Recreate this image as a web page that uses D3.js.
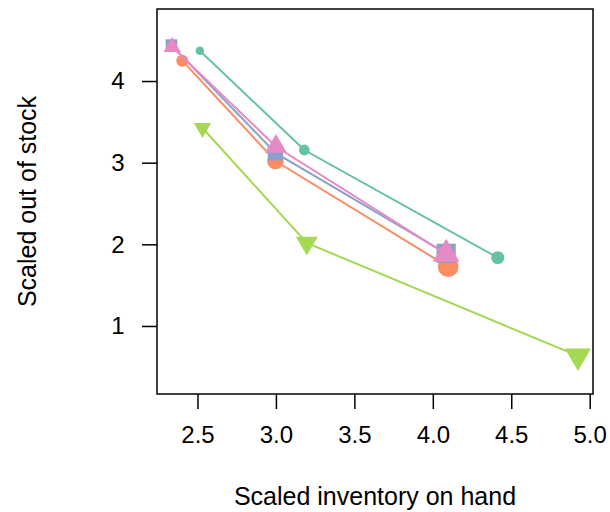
<!DOCTYPE html>
<html>
<head>
<meta charset="utf-8">
<script src="https://cdn.jsdelivr.net/npm/d3@7"></script>
<style>
  html, body { margin: 0; padding: 0; background: #fff; }
  text { font-family: "Liberation Sans", Arial, Helvetica, sans-serif; fill: #000; }
</style>
</head>
<body>
<svg id="chart" width="610" height="512"></svg>
<script>
// ---- data ----
const seriesNames = ["s1", "s2", "s3", "s4", "s5"];
const s1X = [2.515, 3.181, 4.414];
const s1Y = [4.371, 3.155, 1.836];
const s1Size = [0.95, 1.2, 1.45];
const s2X = [2.403, 2.997, 4.098];
const s2Y = [4.249, 3.02, 1.726];
const s2Size = [1.33, 1.85, 2.3];
const s3X = [2.334, 2.997, 4.085];
const s3Y = [4.44, 3.12, 1.89];
const s3Size = [1.45, 1.9, 2.4];
const s4X = [2.339, 3.0, 4.085];
const s4Y = [4.416, 3.198, 1.88];
const s4Size = [1.43, 1.8, 2.2];
const s5X = [2.532, 3.197, 4.925];
const s5Y = [3.425, 2.016, 0.633];
const s5Size = [1.43, 1.8, 2.14];
const xTicks = [2.5, 3.0, 3.5, 4.0, 4.5, 5.0];
const xTickLabels = ["2.5", "3.0", "3.5", "4.0", "4.5", "5.0"];
const yTicks = [1, 2, 3, 4];
const yTickLabels = ["1", "2", "3", "4"];
const xTitle = "Scaled inventory on hand";
const yTitle = "Scaled out of stock";

// ---- styling ----
const colors = ["#66C2A5", "#FC8D62", "#8DA0CB", "#E78AC3", "#A6D854"];
const shapes = ["circle", "circle", "square", "triUp", "triDown"];

const series = [
  {x: s1X, y: s1Y, s: s1Size},
  {x: s2X, y: s2Y, s: s2Size},
  {x: s3X, y: s3Y, s: s3Size},
  {x: s4X, y: s4Y, s: s4Size},
  {x: s5X, y: s5Y, s: s5Size}
];

const L = 157, R = 593, T = 9, B = 394;
const x = d3.scaleLinear().domain([2.242, 5.021]).range([L, R]);
const y = d3.scaleLinear().domain([0.167, 4.882]).range([B, T]);
const cex = d3.scaleLinear().domain([0, 1]).range([0, 1]);

const svg = d3.select("#chart");

// box
svg.append("rect").attr("x", L).attr("y", T).attr("width", R - L).attr("height", B - T)
  .attr("fill", "none").attr("stroke", "#000").attr("stroke-width", 1.5);

// axes
const xAxis = d3.axisBottom(x).tickValues(xTicks)
  .tickFormat((d, i) => xTickLabels[i]).tickSize(15).tickPadding(17);
const gx = svg.append("g").attr("transform", `translate(0,${B})`).call(xAxis);
gx.select(".domain").remove();
gx.selectAll("line").attr("stroke", "#000").attr("stroke-width", 1.5);
gx.selectAll("text").attr("font-size", 24).style("font-family", "Liberation Sans, Arial, sans-serif");

const yAxis = d3.axisLeft(y).tickValues(yTicks)
  .tickFormat((d, i) => yTickLabels[i]).tickSize(15).tickPadding(24);
const gy = svg.append("g").attr("transform", `translate(${L},0)`).call(yAxis);
gy.select(".domain").remove();
gy.selectAll("line").attr("stroke", "#000").attr("stroke-width", 1.5);
gy.selectAll("text").attr("font-size", 24).attr("text-anchor", "middle")
  .attr("dx", 0).style("font-family", "Liberation Sans, Arial, sans-serif");

// titles
svg.append("text").attr("x", (L + R) / 2).attr("y", 505).attr("text-anchor", "middle")
  .attr("font-size", 25).text(xTitle);
svg.append("text").attr("transform", `translate(36,${(T + B) / 2}) rotate(-90)`)
  .attr("text-anchor", "middle").attr("font-size", 25).text(yTitle);

function shapePath(shape, c) {
  if (shape === "circle") {
    const r = 4.5 * c;
    return `M${r},0A${r},${r},0,1,1,${-r},0A${r},${r},0,1,1,${r},0Z`;
  }
  if (shape === "square") {
    const h = 4 * c;
    return `M${-h},${-h}H${h}V${h}H${-h}Z`;
  }
  const r = 7 * c, w = r * Math.sqrt(3) / 2;
  if (shape === "triUp") return `M0,${-r}L${w},${r / 2}L${-w},${r / 2}Z`;
  return `M0,${r}L${w},${-r / 2}L${-w},${-r / 2}Z`;
}

const line = d3.line().x(d => x(d[0])).y(d => y(d[1]));
series.forEach((sr, k) => {
  const pts = sr.x.map((v, i) => [v, sr.y[i], sr.s[i]]);
  const g = svg.append("g");
  g.append("path").attr("d", line(pts)).attr("fill", "none")
    .attr("stroke", colors[k]).attr("stroke-width", 2);
  g.selectAll("path.pt").data(pts).join("path").attr("class", "pt")
    .attr("transform", d => `translate(${x(d[0])},${y(d[1])})`)
    .attr("d", d => shapePath(shapes[k], cex(d[2])))
    .attr("fill", colors[k]);
});
</script>
</body>
</html>
